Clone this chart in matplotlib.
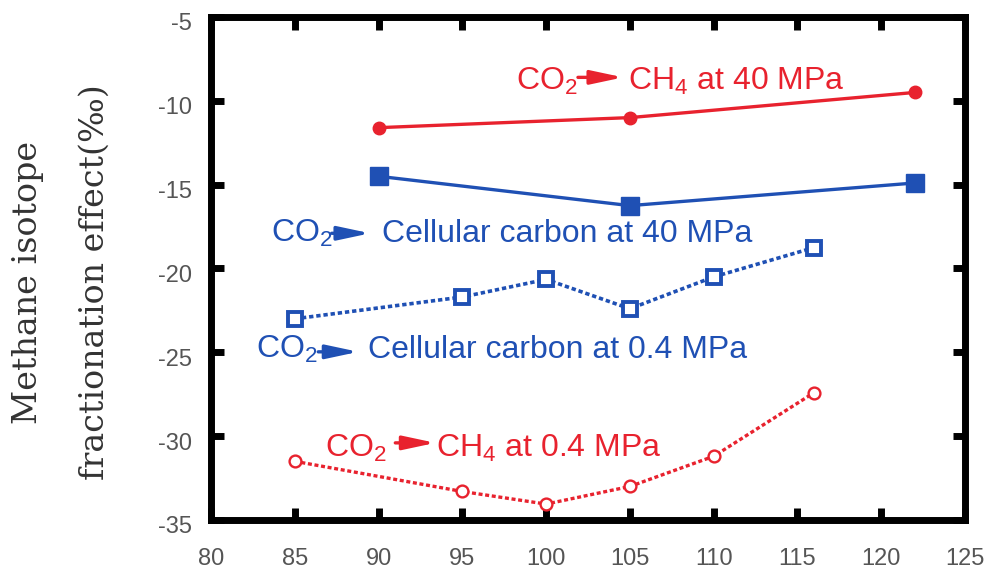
import matplotlib
matplotlib.use("Agg")
import matplotlib.pyplot as plt
from matplotlib.patches import ArrowStyle
from matplotlib.transforms import ScaledTranslation

plt.rcParams['font.family'] = ['Liberation Sans', 'DejaVu Sans']
plt.rcParams['mathtext.fontset'] = 'custom'
plt.rcParams['mathtext.rm'] = 'Liberation Sans'
plt.rcParams['mathtext.default'] = 'regular'

RED = '#e8222e'
BLUE = '#1f50b4'

# Data
x_ch4_40 = [90, 105, 122]
y_ch4_40 = [-11.6, -11.0, -9.5]

x_cell_40 = [90, 105, 122]
y_cell_40 = [-14.5, -16.25, -14.9]

x_cell_04 = [85, 95, 100, 105, 110, 116]
y_cell_04 = [-23.0, -21.7, -20.65, -22.4, -20.5, -18.75]

x_ch4_04 = [85, 95, 100, 105, 110, 116]
y_ch4_04 = [-31.5, -33.3, -34.05, -33.0, -31.2, -27.4]

x_ticks = [80, 85, 90, 95, 100, 105, 110, 115, 120, 125]
y_ticks = [-35, -30, -25, -20, -15, -10, -5]

fig = plt.figure(figsize=(9.89, 5.74), dpi=100)
ax = fig.add_axes([211/989, 1-520/574, 754/989, 503/574])

ax.plot(x_ch4_40, y_ch4_40, '-', color=RED, lw=2.4, marker='o', ms=9,
        mfc=RED, mec=RED, zorder=3)
ax.plot(x_cell_40, y_cell_40, '-', color=BLUE, lw=2.4, marker='s', ms=13,
        mfc=BLUE, mec=BLUE, zorder=3)
ax.plot(x_cell_04, y_cell_04, color=BLUE, lw=2.6, ls=(0, (1.2, 0.8)), marker='s', ms=10.5,
        mfc='white', mec=BLUE, mew=2.8, zorder=3)
ax.plot(x_ch4_04, y_ch4_04, color=RED, lw=2.4, ls=(0, (1.2, 0.8)), marker='o', ms=8.5,
        mfc='white', mec=RED, mew=1.7, zorder=3)

ax.set_xlim(80, 125)
ax.set_ylim(-35, -5)
ax.set_xticks(x_ticks)
ax.set_yticks(y_ticks)
ax.set_xticklabels([str(v) for v in x_ticks])
ax.set_yticklabels([str(v) for v in y_ticks])

for s in ax.spines.values():
    s.set_linewidth(5)
    s.set_color('black')
ax.tick_params(direction='in', length=9, width=5, top=True, right=True,
               labelsize=17, labelcolor='#555555', color='black')
ax.tick_params(axis='x', pad=20)
ax.tick_params(axis='y', pad=14)
for lab in ax.get_yticklabels():
    lab.set_transform(lab.get_transform() + ScaledTranslation(0, -5/100, fig.dpi_scale_trans))

fs = 23
astyle = ArrowStyle('-|>', head_length=1.5, head_width=0.32)

def label(x0, xa0, xa1, xt, yb, ya, rest, color):
    ax.text(x0, yb, 'CO$_2$', color=color, fontsize=fs, va='baseline', ha='left')
    ax.annotate('', xy=(xa1, ya), xytext=(xa0, ya),
                arrowprops=dict(arrowstyle=astyle, color=color, lw=2.4,
                                shrinkA=0, shrinkB=0, mutation_scale=13))
    ax.text(xt, yb, rest, color=color, fontsize=fs, va='baseline', ha='left')

label(98.2, 101.9, 104.6, 104.9, -9.35, -8.6, 'CH$_4$ at 40 MPa', RED)
label(83.6, 87.2, 89.5, 90.2, -18.4, -17.9, 'Cellular carbon at 40 MPa', BLUE)
label(82.7, 86.4, 88.8, 89.35, -25.33, -24.97, 'Cellular carbon at 0.4 MPa', BLUE)
label(86.8, 91.0, 93.4, 93.45, -31.24, -30.4, 'CH$_4$ at 0.4 MPa', RED)

fig.text(28/989, 1-282/574, 'Methane isotope', rotation=90, ha='center', va='center',
         fontsize=24, family=['DejaVu Serif'], color='#333333')
fig.text(95/989, 1-282/574, 'fractionation effect(‰)', rotation=90, ha='center', va='center',
         fontsize=24, family=['DejaVu Serif'], color='#333333')

fig.savefig('out.png', dpi=100)
